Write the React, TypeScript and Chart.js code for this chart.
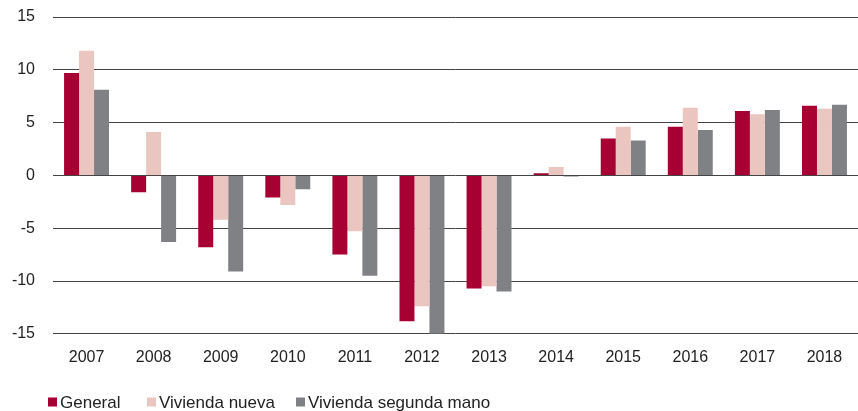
import React, { useEffect, useRef } from "react";
import { Chart, registerables } from "chart.js";

Chart.register(...registerables);

const years = ["2007", "2008", "2009", "2010", "2011", "2012", "2013", "2014", "2015", "2016", "2017", "2018"];
const general = [9.7, -1.6, -6.8, -2.1, -7.5, -13.8, -10.7, 0.2, 3.5, 4.6, 6.1, 6.6];
const viviendaNueva = [11.8, 4.1, -4.2, -2.8, -5.3, -12.4, -10.5, 0.8, 4.6, 6.4, 5.8, 6.3];
const viviendaSegunda = [8.1, -6.3, -9.1, -1.3, -9.5, -15.0, -11.0, -0.1, 3.3, 4.3, 6.2, 6.7];
const seriesNames = ["General", "Vivienda nueva", "Vivienda segunda mano"];
const seriesColors = ["#A70033", "#EBC5BF", "#808185"];
const yTicks = [-15, -10, -5, 0, 5, 10, 15];

const FONT = "'Liberation Sans', Arial, sans-serif";
const TEXT = "#222222";

const legendPlugin = {
  id: "customLegend",
  afterDraw(chart: any) {
    const ctx = chart.ctx;
    const starts = [48, 147, 296];
    const yc = 402;
    ctx.save();
    ctx.font = `17px ${FONT}`;
    ctx.textBaseline = "middle";
    ctx.textAlign = "left";
    chart.data.datasets.forEach((ds: any, i: number) => {
      const x = starts[i];
      ctx.fillStyle = ds.backgroundColor;
      ctx.fillRect(x, yc - 4.5, 9, 9);
      ctx.fillStyle = TEXT;
      ctx.fillText(ds.label, x + 12, yc + 1);
    });
    ctx.restore();
  },
};

export default function App() {
  const ref = useRef<HTMLCanvasElement | null>(null);
  useEffect(() => {
    if (!ref.current) return;
    const chart = new Chart(ref.current, {
      type: "bar",
      data: {
        labels: years,
        datasets: [general, viviendaNueva, viviendaSegunda].map((d, i) => ({
          label: seriesNames[i],
          data: d,
          backgroundColor: seriesColors[i],
          borderWidth: 0,
          categoryPercentage: 0.67,
          barPercentage: 1,
        })),
      },
      options: {
        animation: false,
        responsive: true,
        maintainAspectRatio: false,
        layout: { padding: { top: 17, bottom: 30, left: 0, right: 0 } },
        plugins: {
          legend: { display: false },
          tooltip: { enabled: false },
        },
        scales: {
          x: {
            grid: { display: false, drawTicks: false },
            border: { display: false },
            ticks: { color: TEXT, font: { family: FONT, size: 16 }, padding: 14, maxRotation: 0 },
          },
          y: {
            min: -15,
            max: 15,
            afterFit: (s: any) => {
              s.width = 53;
              s.paddingTop = 0;
              s.paddingBottom = 0;
            },
            afterBuildTicks: (s: any) => { s.ticks = yTicks.map((v) => ({ value: v })); },
            grid: { color: "#444444", lineWidth: 1, drawTicks: false },
            border: { display: false },
            ticks: { color: TEXT, font: { family: FONT, size: 16 }, padding: 18 },
          },
        },
      },
      plugins: [legendPlugin],
    });
    return () => chart.destroy();
  }, []);
  return (
    <div style={{ position: "fixed", left: 0, top: 0, width: 858, height: 411, background: "#fff" }}>
      <canvas ref={ref} />
    </div>
  );
}
